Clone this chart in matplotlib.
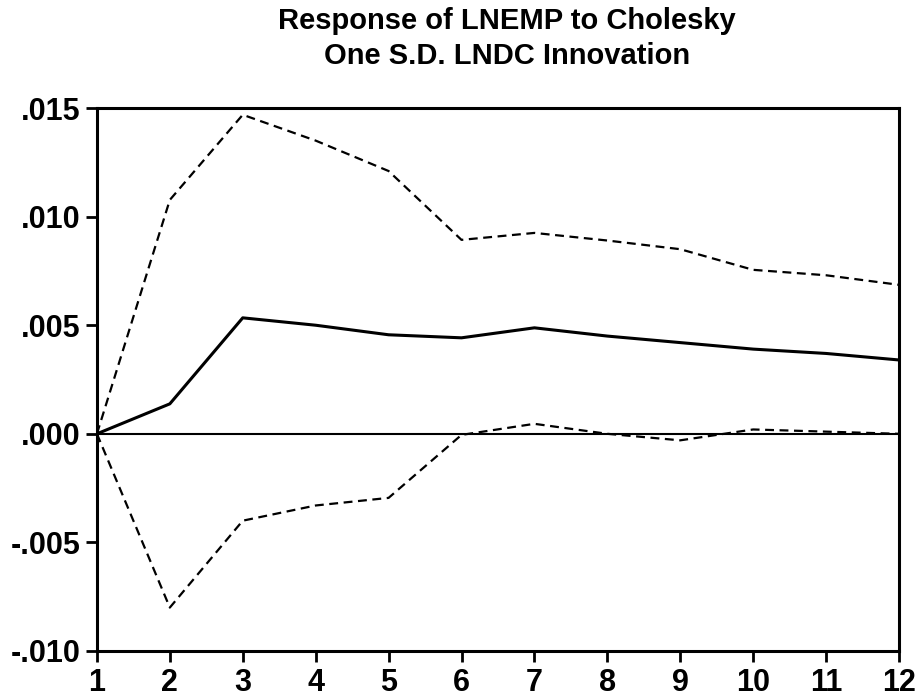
import matplotlib
matplotlib.use("Agg")
import matplotlib.pyplot as plt

# -------------------------
# DATA
# -------------------------
periods = [1, 2, 3, 4, 5, 6, 7, 8, 9, 10, 11, 12]
response = [0.0, 0.00138, 0.00534, 0.0050, 0.00456, 0.00442, 0.00488,
            0.0045, 0.0042, 0.0039, 0.0037, 0.0034]
upper = [0.0, 0.01077, 0.01469, 0.0135, 0.0121, 0.00893, 0.00925,
         0.0089, 0.0085, 0.00755, 0.0073, 0.00686]
lower = [0.0, -0.0080, -0.0040, -0.0033, -0.00295, -0.00005, 0.00046,
         0.0, -0.0003, 0.0002, 0.0001, 0.0]
ytick_vals = [-0.010, -0.005, 0.000, 0.005, 0.010, 0.015]
ytick_labels = ["-.010", "-.005", ".000", ".005", ".010", ".015"]

plt.rcParams['font.family'] = ['Liberation Sans', 'DejaVu Sans']

fig = plt.figure(figsize=(9.23, 6.97), dpi=100)
ax = fig.add_axes([0.105, 0.066, 0.869, 0.779])

ax.axhline(0, color="black", linewidth=1.5)
ax.plot(periods, response, color="black", linewidth=2.2)
ax.plot(periods, upper, color="black", linewidth=1.6, linestyle=(0, (4, 2.5)))
ax.plot(periods, lower, color="black", linewidth=1.6, linestyle=(0, (4, 2.5)))

ax.set_xlim(1, 12)
ax.set_ylim(-0.010, 0.015)
ax.set_xticks(periods)
ax.set_xticklabels([str(p) for p in periods], fontsize=22, fontweight="bold")
ax.set_yticks(ytick_vals)
ax.set_yticklabels(ytick_labels, fontsize=22, fontweight="bold")

for side in ["left", "bottom", "top", "right"]:
    ax.spines[side].set_linewidth(2.2)
ax.tick_params(direction="out", length=8, width=2, top=False, right=False)
ax.tick_params(axis="y", pad=4)
ax.tick_params(axis="x", pad=4)

fig.text(0.549, 0.99, "Response of LNEMP to Cholesky\nOne S.D. LNDC Innovation",
         ha="center", va="top", fontsize=21, fontweight="bold", linespacing=1.3)

fig.savefig("out.png", dpi=100)
